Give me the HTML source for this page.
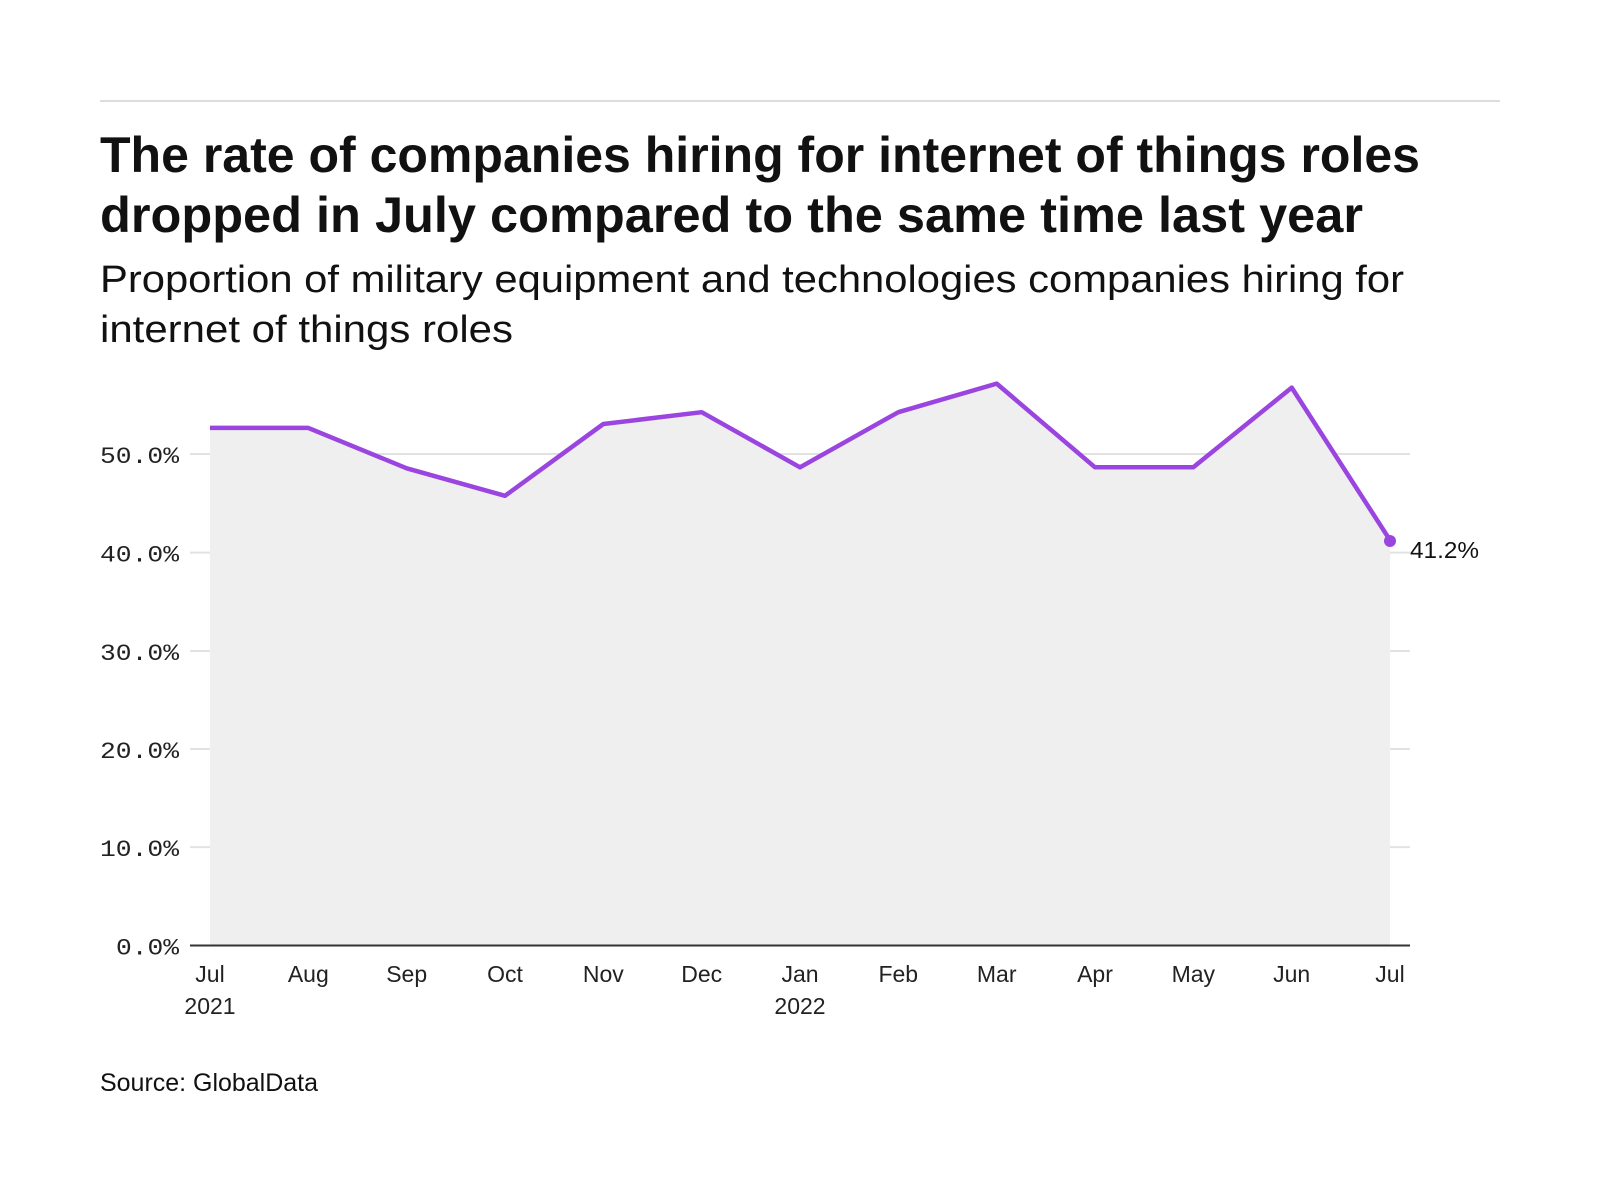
<!DOCTYPE html>
<html><head><style>body{margin:0;background:#fff}svg{display:block}</style></head><body>
<svg width="1600" height="1200" viewBox="0 0 1600 1200" xmlns="http://www.w3.org/2000/svg" font-family="'Liberation Sans', sans-serif">
<line x1="100" y1="101" x2="1500" y2="101" stroke="#ddd" stroke-width="2"/>
<text x="100" y="172" font-size="50" font-weight="bold" fill="#111" textLength="1320" lengthAdjust="spacingAndGlyphs">The rate of companies hiring for internet of things roles</text>
<text x="100" y="232" font-size="50" font-weight="bold" fill="#111" textLength="1263" lengthAdjust="spacingAndGlyphs">dropped in July compared to the same time last year</text>
<text x="100" y="292" font-size="38" fill="#111" textLength="1304" lengthAdjust="spacingAndGlyphs">Proportion of military equipment and technologies companies hiring for</text>
<text x="100" y="342" font-size="38" fill="#111" textLength="413" lengthAdjust="spacingAndGlyphs">internet of things roles</text>
<g stroke="#e2e2e2" stroke-width="2">
<line x1="190" y1="454" x2="1410" y2="454"/><line x1="190" y1="552.6" x2="1410" y2="552.6"/><line x1="190" y1="651" x2="1410" y2="651"/><line x1="190" y1="749" x2="1410" y2="749"/><line x1="190" y1="847.1" x2="1410" y2="847.1"/>
</g>
<path d="M210,427.9 L308.3,427.9 L406.7,468.3 L505,495.8 L603.3,424 L701.7,412.2 L800,467.3 L898.3,412.2 L996.7,383.6 L1095,467.3 L1193.3,467.3 L1291.7,387.6 L1390,540.1 L1390,945.5 L210,945.5 Z" fill="#efefef"/>
<line x1="190" y1="945.5" x2="1410" y2="945.5" stroke="#333" stroke-width="2"/>
<path d="M210,427.9 L308.3,427.9 L406.7,468.3 L505,495.8 L603.3,424 L701.7,412.2 L800,467.3 L898.3,412.2 L996.7,383.6 L1095,467.3 L1193.3,467.3 L1291.7,387.6 L1390,540.1" fill="none" stroke="#9b45e0" stroke-width="4.5" stroke-linejoin="round"/>
<circle cx="1390" cy="541" r="6" fill="#9b45e0"/>
<text x="1410" y="558" font-size="23" fill="#111" textLength="69" lengthAdjust="spacingAndGlyphs">41.2%</text>
<g font-family="'Liberation Mono', monospace" font-size="23" fill="#222" text-anchor="end">
<text x="179" y="463" textLength="79" lengthAdjust="spacingAndGlyphs">50.0%</text><text x="179" y="561.6" textLength="79" lengthAdjust="spacingAndGlyphs">40.0%</text><text x="179" y="660" textLength="79" lengthAdjust="spacingAndGlyphs">30.0%</text><text x="179" y="758" textLength="79" lengthAdjust="spacingAndGlyphs">20.0%</text><text x="179" y="856" textLength="79" lengthAdjust="spacingAndGlyphs">10.0%</text><text x="179" y="954.5" textLength="63" lengthAdjust="spacingAndGlyphs">0.0%</text>
</g>
<g font-size="23" fill="#222" text-anchor="middle">
<text x="210" y="982">Jul</text><text x="210" y="1014">2021</text>
<text x="308.3" y="982">Aug</text><text x="406.7" y="982">Sep</text><text x="505" y="982">Oct</text><text x="603.3" y="982">Nov</text><text x="701.7" y="982">Dec</text>
<text x="800" y="982">Jan</text><text x="800" y="1014">2022</text>
<text x="898.3" y="982">Feb</text><text x="996.7" y="982">Mar</text><text x="1095" y="982">Apr</text><text x="1193.3" y="982">May</text><text x="1291.7" y="982">Jun</text><text x="1390" y="982">Jul</text>
</g>
<text x="100" y="1091" font-size="25" fill="#111" textLength="218" lengthAdjust="spacingAndGlyphs">Source: GlobalData</text>
</svg>
</body></html>
